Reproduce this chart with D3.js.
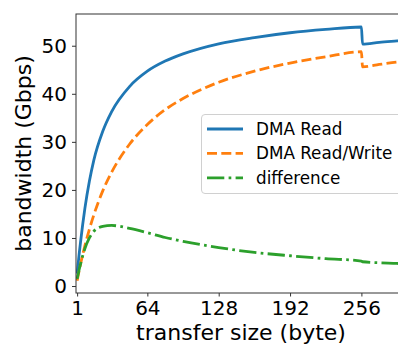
<!DOCTYPE html>
<html>
<head>
<meta charset="utf-8">
<script src="https://cdn.jsdelivr.net/npm/d3@7"></script>
<style>
  body { margin: 0; background: #fff; }
  svg { display: block; font-family: "DejaVu Sans", sans-serif; }
</style>
</head>
<body>
<div id="chart"></div>
<script>
// transfer sizes (bytes) and bandwidth readings (Gbps)
const sizes      = [1, 2, 3, 4, 6, 8, 12, 16, 24, 32, 48, 64, 80, 96, 128, 160, 192, 224, 256, 257, 272, 288, 296];
const dmaRead    = [2.6, 4.8, 7.0, 9.0, 12.8, 16.2, 21.8, 26.2, 32.2, 36.3, 41.5, 44.7, 46.8, 48.3, 50.4, 51.7, 52.7, 53.4, 53.9, 50.35, 50.7, 51.0, 51.15];
const dmaReadWr  = [1.1, 2.3, 3.4, 4.5, 6.5, 8.4, 11.8, 14.8, 19.8, 23.7, 29.5, 33.6, 36.7, 39.0, 42.4, 44.7, 46.4, 47.7, 48.75, 45.6, 46.1, 46.6, 46.8];
const difference = [1.5, 2.5, 3.6, 4.5, 6.3, 7.8, 10.0, 11.4, 12.4, 12.6, 12.0, 11.1, 10.1, 9.3, 8.0, 7.0, 6.3, 5.7, 5.2, 5.05, 4.85, 4.7, 4.6];

const xTicks = [1, 64, 128, 192, 256];
const yTicks = [0, 10, 20, 30, 40, 50];

const seriesNames = ["DMA Read", "DMA Read/Write", "difference"];
const seriesColors = ["#1f77b4", "#ff7f0e", "#2ca02c"];
const seriesDash = [null, "10,4.3", "17.3,4.3,2.7,4.3"];
const seriesValues = [dmaRead, dmaReadWr, difference];

const W = 398, H = 347;
const margin = {top: 14, left: 76, right: -8, bottom: 54};

const svg = d3.select("#chart").append("svg")
    .attr("width", W)
    .attr("height", H);

svg.append("rect").attr("width", W).attr("height", H).attr("fill", "#fff");

const x = d3.scaleLinear()
    .domain([0, 296])
    .range([margin.left, W - margin.right]);

const y = d3.scaleLinear()
    .domain([-1.45, 56.6])
    .range([H - margin.bottom, margin.top]);

const plotW = W - margin.right - margin.left;
const plotH = H - margin.bottom - margin.top;

svg.append("clipPath").attr("id", "clip")
  .append("rect")
    .attr("x", margin.left).attr("y", margin.top)
    .attr("width", plotW).attr("height", plotH);

// Lines
const line = d3.line()
    .x(d => x(d[0]))
    .y(d => y(d[1]))
    .curve(d3.curveMonotoneX);

const linesG = svg.append("g").attr("clip-path", "url(#clip)");
seriesValues.forEach((vals, i) => {
    linesG.append("path")
        .datum(sizes.map((s, j) => [s, vals[j]]))
        .attr("d", line)
        .attr("fill", "none")
        .attr("stroke", seriesColors[i])
        .attr("stroke-width", 2.8)
        .attr("stroke-dasharray", seriesDash[i])
        .attr("stroke-linejoin", "round");
});

// Axes
const xAxis = svg.append("g")
    .attr("transform", `translate(0,${H - margin.bottom})`)
    .call(d3.axisBottom(x).tickValues(xTicks).tickSize(3.5).tickPadding(4));

const yAxis = svg.append("g")
    .attr("transform", `translate(${margin.left},0)`)
    .call(d3.axisLeft(y).tickValues(yTicks).tickSize(4).tickPadding(5));

[xAxis, yAxis].forEach(a => {
    a.select(".domain").remove();
    a.selectAll(".tick line").attr("stroke", "#333").attr("stroke-width", 1);
    a.selectAll(".tick text")
        .attr("fill", "#000")
        .style("font-size", "20px")
        .style("font-family", "DejaVu Sans, sans-serif");
});

// Spines
svg.append("rect")
    .attr("x", margin.left).attr("y", margin.top)
    .attr("width", plotW).attr("height", plotH)
    .attr("fill", "none")
    .attr("stroke", "#333")
    .attr("stroke-width", 1);

// Axis labels
svg.append("text")
    .attr("x", (margin.left + W - margin.right) / 2)
    .attr("y", 340)
    .attr("text-anchor", "middle")
    .style("font-size", "22px")
    .text("transfer size (byte)");

svg.append("text")
    .attr("transform", `translate(31,${(margin.top + H - margin.bottom) / 2}) rotate(-90)`)
    .attr("text-anchor", "middle")
    .style("font-size", "22px")
    .text("bandwidth (Gbps)");

// Legend
const legend = svg.append("g");
legend.append("rect")
    .attr("x", 201.5).attr("y", 114.5)
    .attr("width", 200).attr("height", 79)
    .attr("rx", 3.5)
    .attr("fill", "#fff").attr("fill-opacity", 0.8)
    .attr("stroke", "#d0d0d0").attr("stroke-width", 1);

seriesNames.forEach((name, i) => {
    const cy = 129 + i * 24.4;
    legend.append("line")
        .attr("x1", 207).attr("x2", 243)
        .attr("y1", cy).attr("y2", cy)
        .attr("stroke", seriesColors[i])
        .attr("stroke-width", 2.8)
        .attr("stroke-dasharray", seriesDash[i]);
    legend.append("text")
        .attr("x", 256).attr("y", cy)
        .attr("dy", "0.36em")
        .style("font-size", "16.8px")
        .attr("fill", "#000")
        .text(name);
});
</script>
</body>
</html>
